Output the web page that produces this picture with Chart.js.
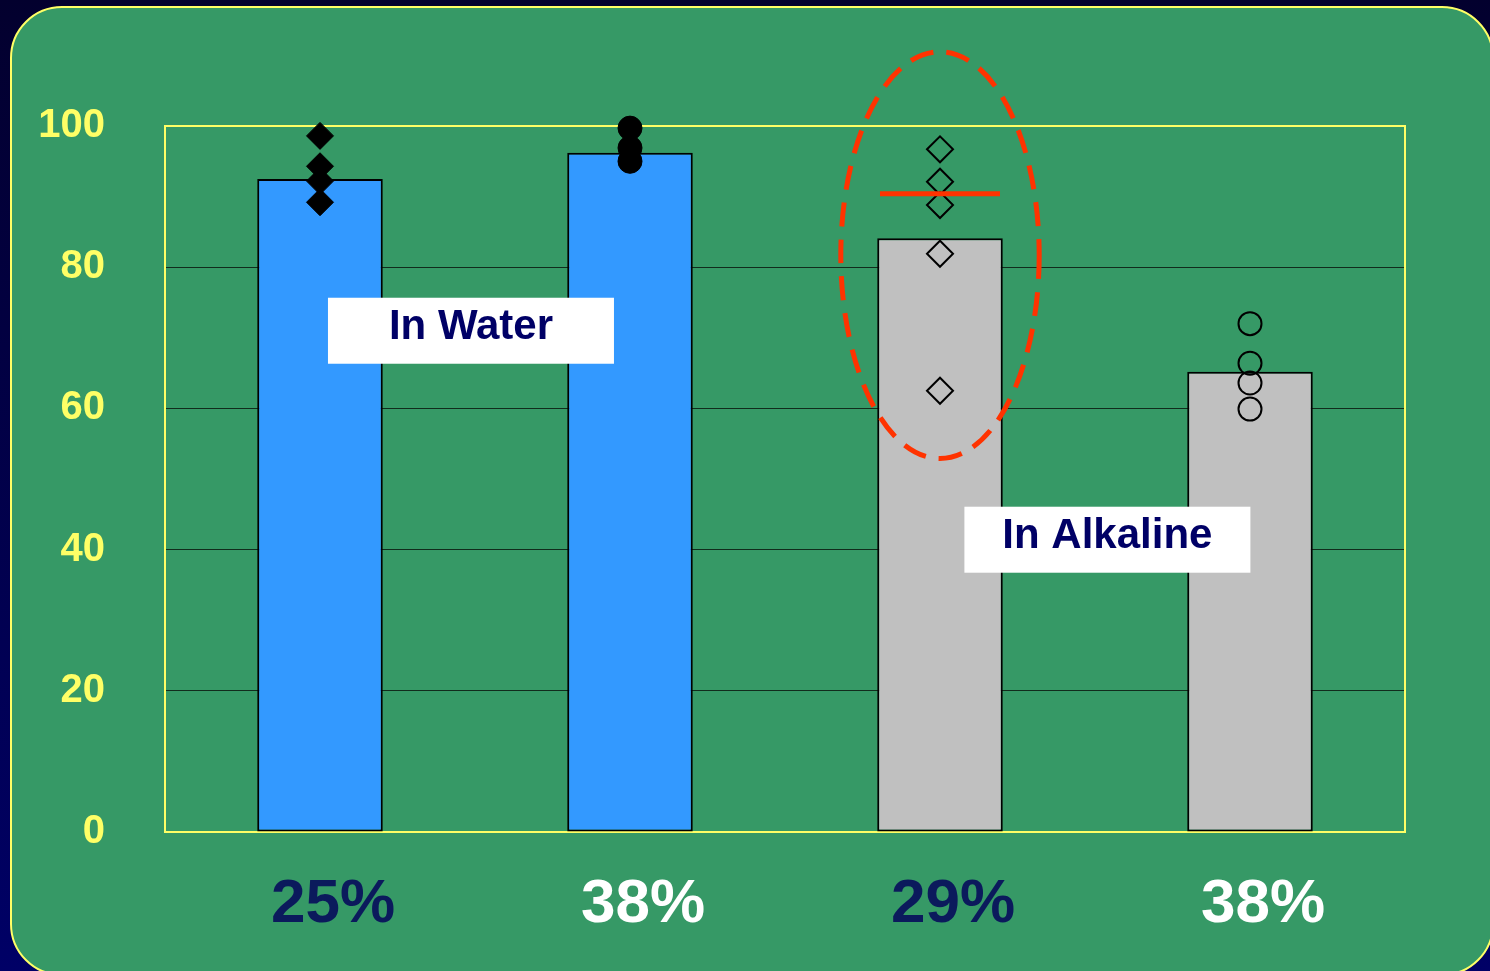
<!DOCTYPE html>
<html lang="en">
<head>
  <meta charset="UTF-8" />
  <title>In Water / In Alkaline</title>
  <script src="https://cdn.jsdelivr.net/npm/chart.js"></script>
  <style>
    html, body {
      margin: 0;
      padding: 0;
      width: 1490px;
      height: 971px;
      overflow: hidden;
      background: linear-gradient(#03002e, #000066);
    }

    /* green rounded panel */
    .panel {
      position: absolute;
      left: 10px;
      top: 6px;
      width: 1480px;
      height: 966px;
      background: #369966;
      border: 2px solid #ffff66;
      border-radius: 52px;
    }

    canvas {
      position: absolute;
      left: 0;
      top: 0;
    }
  </style>
</head>
<body>

<div class="panel"></div>
<canvas id="grafico" width="1490" height="971"></canvas>

<script>
  // Dati
  const chiavi = ['acqua25', 'acqua38', 'alcal29', 'alcal38'];
  const categorie = ['25%', '38%', '29%', '38%'];
  const coloriEtichette = ['#0b1a5c', '#ffffff', '#0b1a5c', '#ffffff'];
  const valoriBarre = [92.5, 96.2, 84.1, 65.2];
  const coloriBarre = ['#3399ff', '#3399ff', '#c0c0c0', '#c0c0c0'];

  const puntiAcqua25 = [98.6, 94.3, 92.2, 89.2];
  const puntiAcqua38 = [99.7, 96.9, 95.0];
  const puntiAlcal29 = [96.7, 92.1, 88.8, 81.9, 62.5];
  const puntiAlcal38 = [72.0, 66.4, 63.6, 59.9];
  const lineaRossa29 = [90.4];

  const tickY = [0, 20, 40, 60, 80, 100];

  // riquadri di testo: posizione in categorie (anche a metà), valore y
  const riquadri = [
    { testo: 'In Water', x: 0.487, y: 71 },
    { testo: 'In Alkaline', x: 2.54, y: 41.4 }
  ];
  // ellisse tratteggiata: centro (categoria, valore), raggio y in unità, raggio x in frazione di categoria
  const ellisse = { x: 2, y: 81.7, ry: 28.8, rx: 0.32 };

  const FONT = "'Liberation Sans', Arial, sans-serif";

  function punti(chiave, valori) {
    return valori.map(v => ({ x: chiave, y: v }));
  }

  // bordo giallo dell'area del grafico
  const bordoArea = {
    id: 'bordoArea',
    beforeDatasetsDraw(chart) {
      const a = chart.chartArea;
      const ctx = chart.ctx;
      ctx.save();
      ctx.strokeStyle = '#ffff66';
      ctx.lineWidth = 2;
      ctx.strokeRect(a.left, a.top, a.right - a.left, a.bottom - a.top);
      ctx.restore();
    }
  };

  // ellisse rossa e riquadri bianchi
  const annotazioni = {
    id: 'annotazioni',
    afterDatasetsDraw(chart) {
      const ctx = chart.ctx;
      const sx = chart.scales.x;
      const sy = chart.scales.y;
      const larghezzaCat = sx.getPixelForValue(1) - sx.getPixelForValue(0);

      ctx.save();
      // ellisse
      const cx = sx.getPixelForValue(ellisse.x);
      const cy = sy.getPixelForValue(ellisse.y);
      const ry = sy.getPixelForValue(0) - sy.getPixelForValue(ellisse.ry);
      const rx = larghezzaCat * ellisse.rx;
      ctx.strokeStyle = '#ff3300';
      ctx.lineWidth = 5;
      ctx.setLineDash([24, 13]);
      ctx.beginPath();
      ctx.ellipse(cx, cy, rx, ry, 0, 0, Math.PI * 2);
      ctx.stroke();
      ctx.setLineDash([]);

      // riquadri
      ctx.font = 'bold 42px ' + FONT;
      ctx.textAlign = 'center';
      ctx.textBaseline = 'middle';
      riquadri.forEach(r => {
        const px = sx.getPixelForValue(0) + r.x * larghezzaCat;
        const py = sy.getPixelForValue(r.y);
        ctx.fillStyle = '#ffffff';
        ctx.fillRect(px - 143, py - 33, 286, 66);
        ctx.fillStyle = '#000066';
        ctx.fillText(r.testo, px, py - 3);
      });
      ctx.restore();
    }
  };

  new Chart(document.getElementById('grafico'), {
    type: 'bar',
    data: {
      labels: chiavi,
      datasets: [
        {
          type: 'line',
          data: punti(chiavi[0], puntiAcqua25),
          showLine: false,
          clip: false,
          pointStyle: 'rectRot',
          pointRadius: 13.5,
          pointBackgroundColor: '#000000',
          pointBorderColor: '#000000',
          pointBorderWidth: 1,
          order: 0
        },
        {
          type: 'line',
          data: punti(chiavi[1], puntiAcqua38),
          showLine: false,
          clip: false,
          pointStyle: 'circle',
          pointRadius: 12,
          pointBackgroundColor: '#000000',
          pointBorderColor: '#000000',
          pointBorderWidth: 1,
          order: 0
        },
        {
          type: 'line',
          data: punti(chiavi[2], lineaRossa29),
          showLine: false,
          clip: false,
          pointStyle: 'line',
          pointRadius: 60,
          pointBorderColor: '#ff3300',
          pointBorderWidth: 5,
          order: 0
        },
        {
          type: 'line',
          data: punti(chiavi[2], puntiAlcal29),
          showLine: false,
          clip: false,
          pointStyle: 'rectRot',
          pointRadius: 13,
          pointBackgroundColor: 'rgba(0,0,0,0)',
          pointBorderColor: '#000000',
          pointBorderWidth: 2,
          order: 0
        },
        {
          type: 'line',
          data: punti(chiavi[3], puntiAlcal38),
          showLine: false,
          clip: false,
          pointStyle: 'circle',
          pointRadius: 11.5,
          pointBackgroundColor: 'rgba(0,0,0,0)',
          pointBorderColor: '#000000',
          pointBorderWidth: 2,
          order: 0
        },
        {
          data: valoriBarre,
          backgroundColor: coloriBarre,
          borderColor: '#000000',
          borderWidth: 2,
          borderSkipped: false,
          barPercentage: 0.405,
          categoryPercentage: 1,
          order: 1
        }
      ]
    },
    options: {
      responsive: false,
      animation: false,
      layout: { padding: { left: 0, top: 126, right: 85, bottom: 0 } },
      plugins: {
        legend: { display: false },
        tooltip: { enabled: false }
      },
      scales: {
        x: {
          grid: { display: false },
          border: { display: false },
          afterFit(scale) { scale.height = 139; },
          ticks: {
            padding: 28,
            labelOffset: 13,
            color: coloriEtichette,
            callback: (v, i) => categorie[i],
            font: { family: FONT, size: 62, weight: 'bold' }
          }
        },
        y: {
          min: 0,
          max: 100,
          afterFit(scale) { scale.width = 165; },
          afterBuildTicks(scale) { scale.ticks = tickY.map(v => ({ value: v })); },
          border: { display: false },
          grid: {
            drawTicks: false,
            lineWidth: 1,
            color: c => (c.tick.value === 0 || c.tick.value === 100) ? 'rgba(0,0,0,0)' : 'rgba(10,25,15,0.85)'
          },
          ticks: {
            padding: 60,
            color: '#ffff66',
            font: { family: FONT, size: 40, weight: 'bold' }
          }
        }
      }
    },
    plugins: [bordoArea, annotazioni]
  });
</script>

</body>
</html>
